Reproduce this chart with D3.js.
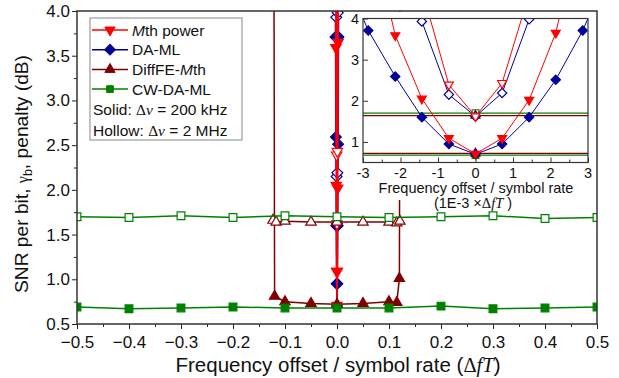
<!DOCTYPE html>
<html><head><meta charset="utf-8">
<script src="https://cdn.jsdelivr.net/npm/d3@7"></script>
<style>
body{margin:0;background:#fff}
svg{display:block;font-family:"Liberation Sans",Arial,sans-serif}
</style>
</head><body>
<svg id="c" width="619" height="378"></svg>
<script>
// ---------------- DATA ----------------
// CW-DA-ML (wide x range)
const cwX = [-0.5,-0.4,-0.3,-0.2,-0.1,0,0.1,0.2,0.3,0.4,0.5];
const cwSolid  = [0.69,0.67,0.68,0.69,0.68,0.68,0.68,0.70,0.67,0.68,0.69];
const cwHollow = [1.70,1.69,1.71,1.69,1.71,1.70,1.69,1.70,1.71,1.68,1.69];
// DiffFE-Mth
const dfSolidX = [-0.123,-0.12,-0.1,-0.05,0,0.05,0.1,0.115,0.12,0.123];
const dfSolid  = [10,0.81,0.75,0.73,0.72,0.73,0.75,0.74,1.01,10];
const dfHollowX = [-0.123,-0.117,-0.1,-0.05,0,0.05,0.1,0.115,0.121];
const dfHollow  = [1.66,1.64,1.65,1.64,1.64,1.64,1.64,1.63,1.65];
// Central series, x in units of 1E-3 x ΔfT
const mthSolidX = [-2.86,-2.14,-1.43,-0.71,0,0.71,1.43,2.14,2.86];
const mthSolid  = [6.4,3.59,2.05,1.09,0.71,1.09,2.02,3.65,6.5];
const mthHollowX = [-1.43,-0.71,0,0.71,1.43];
const mthHollow  = [4.7,2.39,1.62,2.43,4.6];
const daSolidX = [-3.57,-2.86,-2.14,-1.43,-0.71,0,0.71,1.43,2.14,2.86,3.57];
const daSolid  = [5.2,3.71,2.59,1.60,0.95,0.70,0.95,1.60,2.51,3.71,5.2];
const daHollowX = [-2.14,-1.43,-0.71,0,0.71,1.43,2.14];
const daHollow  = [6.0,3.93,2.15,1.62,2.19,3.98,6.0];
// ticks
const mainXTicks = [-0.5,-0.4,-0.3,-0.2,-0.1,0,0.1,0.2,0.3,0.4,0.5];
const mainYTicks = [0.5,1.0,1.5,2.0,2.5,3.0,3.5,4.0];
const insetXTicks = [-3,-2,-1,0,1,2,3];
const insetYTicks = [1,2,3,4];
const legendNames = ["Mth power","DA-ML","DiffFE-Mth","CW-DA-ML"];

const C = {red:"#ff0000", blue:"#000099", wine:"#800000", green:"#008000"};
const K = 1e-3;

const central = [
  {x:daSolidX.map(v=>v*K), y:daSolid, color:C.blue, sym:"diamond", fill:true},
  {x:daHollowX.map(v=>v*K), y:daHollow, color:C.blue, sym:"diamond", fill:false},
  {x:mthSolidX.map(v=>v*K), y:mthSolid, color:C.red, sym:"down", fill:true},
  {x:mthHollowX.map(v=>v*K), y:mthHollow, color:C.red, sym:"down", fill:false},
];
const wide = [
  {x:dfSolidX, y:dfSolid, color:C.wine, sym:"up", fill:true},
  {x:dfHollowX, y:dfHollow, color:C.wine, sym:"up", fill:false},
  {x:cwX, y:cwSolid, color:C.green, sym:"square", fill:true},
  {x:cwX, y:cwHollow, color:C.green, sym:"square", fill:false},
];

const svg = d3.select("#c");

function symPath(sym, scale){
  if(sym==="diamond") return {d:d3.symbol(d3.symbolSquare, 58*scale)(), rot:45};
  if(sym==="up") return {d:d3.symbol(d3.symbolTriangle, 46*scale)(), rot:0};
  if(sym==="down") return {d:d3.symbol(d3.symbolTriangle, 46*scale)(), rot:180};
  return {d:d3.symbol(d3.symbolSquare, 60*scale)(), rot:0};
}

// ---------------- MAIN ----------------
const M = {l:77, r:597, t:11, b:324};
const x = d3.scaleLinear().domain([-0.5,0.5]).range([M.l,M.r]);
const y = d3.scaleLinear().domain([0.5,4]).range([M.b,M.t]);

svg.append("clipPath").attr("id","mclip").append("rect")
  .attr("x",M.l).attr("y",M.t).attr("width",M.r-M.l).attr("height",M.b-M.t);

const gx = svg.append("g").attr("transform",`translate(0,${M.b})`)
  .call(d3.axisBottom(x).tickValues(mainXTicks).tickFormat(d3.format(".1f")).tickSize(5).tickSizeOuter(0));
const gxm = svg.append("g").attr("transform",`translate(0,${M.b})`)
  .call(d3.axisBottom(x).tickValues(mainXTicks.slice(0,-1).map(v=>v+0.05)).tickFormat("").tickSize(3).tickSizeOuter(0));
const gy = svg.append("g").attr("transform",`translate(${M.l},0)`)
  .call(d3.axisLeft(y).tickValues(mainYTicks).tickFormat(d3.format(".1f")).tickSize(5).tickSizeOuter(0));
const gym = svg.append("g").attr("transform",`translate(${M.l},0)`)
  .call(d3.axisLeft(y).tickValues(mainYTicks.slice(0,-1).map(v=>v+0.25)).tickFormat("").tickSize(3).tickSizeOuter(0));
[gx,gxm,gy,gym].forEach(g=>{g.select(".domain").remove();g.selectAll("line").attr("stroke","#222");});
gx.selectAll("text").attr("font-size",17).attr("fill","#111").attr("dy","0.95em").attr("font-family","Liberation Sans, Arial");
gy.selectAll("text").attr("font-size",17).attr("fill","#111").attr("font-family","Liberation Sans, Arial").attr("x",-7);

function drawSeries(g, list, xs, ys, clipId, scale, lw, xfac){
  list.forEach(s=>{
    const pts = s.x.map((v,i)=>[xs(v*xfac), ys(s.y[i])]);
    g.append("path").attr("d", d3.line()(pts)).attr("fill","none")
      .attr("stroke", s.color).attr("stroke-width", lw).attr("clip-path",`url(#${clipId})`);
    const sp = symPath(s.sym, scale);
    const mg = g.append("g").attr("clip-path",`url(#${clipId})`);
    pts.forEach(p=>{
      mg.append("path").attr("d", sp.d)
        .attr("transform",`translate(${p[0]},${p[1]}) rotate(${sp.rot})`)
        .attr("fill", s.fill? s.color : "#fff").attr("stroke", s.color).attr("stroke-width", 1.2);
    });
  });
}
const plot = svg.append("g");
drawSeries(plot, central.concat(wide), x, y, "mclip", 1, 1.5, 1);

svg.append("rect").attr("x",M.l).attr("y",M.t).attr("width",M.r-M.l).attr("height",M.b-M.t)
  .attr("fill","none").attr("stroke","#333").attr("stroke-width",1.5);

// axis titles
const xt = svg.append("text").attr("x",338).attr("y",372).attr("text-anchor","middle")
  .attr("font-size",20.5).attr("fill","#111");
xt.append("tspan").text("Frequency offset / symbol rate (");
xt.append("tspan").attr("font-family","Liberation Serif, Times New Roman, serif").text("Δ");
xt.append("tspan").attr("font-family","Liberation Serif, Times New Roman, serif").attr("font-style","italic").text("fT");
xt.append("tspan").text(")");

const yt = svg.append("text").attr("transform",`translate(28,174) rotate(-90)`)
  .attr("text-anchor","middle").attr("font-size",19.2).attr("fill","#111");
yt.append("tspan").text("SNR per bit, ");
yt.append("tspan").attr("font-family","Liberation Serif, serif").attr("font-size",16).text("γ");
yt.append("tspan").attr("font-size",12.5).attr("dy",4).text("b");
yt.append("tspan").attr("dy",-4).text(", penalty (dB)");

// ---------------- LEGEND ----------------
const lg = svg.append("g");
lg.append("rect").attr("x",90).attr("y",18).attr("width",152).attr("height",122)
  .attr("fill","#fff").attr("stroke","#888").attr("stroke-width",1);
const legItems = [
  {color:C.red, sym:"down"}, {color:C.blue, sym:"diamond"}, {color:C.wine, sym:"up"}, {color:C.green, sym:"square"}
];
legItems.forEach((it,i)=>{
  const yy = 30 + i*19.7;
  lg.append("line").attr("x1",92).attr("x2",128).attr("y1",yy).attr("y2",yy).attr("stroke",it.color).attr("stroke-width",1.5);
  const sp = symPath(it.sym, it.sym==="square"?0.75:1);
  lg.append("path").attr("d",sp.d).attr("transform",`translate(110,${yy}) rotate(${sp.rot})`).attr("fill",it.color).attr("stroke",it.color);
  const t = lg.append("text").attr("x",132).attr("y",yy+5.5).attr("font-size",15.5).attr("fill","#111");
  const nm = legendNames[i];
  if(nm.startsWith("M")){ t.append("tspan").attr("font-style","italic").text("M"); t.append("tspan").text(nm.slice(1)); }
  else if(nm.endsWith("Mth")){ t.append("tspan").text(nm.slice(0,-3)); t.append("tspan").attr("font-style","italic").text("M"); t.append("tspan").text("th"); }
  else t.text(nm);
});
[["Solid: ","200 kHz",109],["Hollow: ","2 MHz",130]].forEach(r=>{
  const t = lg.append("text").attr("x",93).attr("y",r[2]+5.5).attr("font-size",15.5).attr("fill","#111");
  t.append("tspan").text(r[0]);
  t.append("tspan").attr("font-family","Liberation Serif, serif").text("Δ");
  t.append("tspan").attr("font-family","Liberation Serif, serif").attr("font-style","italic").text("ν");
  t.append("tspan").text(" = "+r[1]);
});

// ---------------- INSET ----------------
const I = {l:363, r:588, t:18.5, b:162.5};
svg.append("rect").attr("x",346).attr("y",12).attr("width",250).attr("height",188).attr("fill","#fff");
const ix = d3.scaleLinear().domain([-3,3]).range([I.l,I.r]);
const iy = d3.scaleLinear().domain([0.5,4]).range([I.b,I.t]);
svg.append("clipPath").attr("id","iclip").append("rect")
  .attr("x",I.l).attr("y",I.t).attr("width",I.r-I.l).attr("height",I.b-I.t);
const inset = svg.append("g");
// in the inset the flat reference curves lie underneath
drawSeries(inset, wide.slice().reverse(), ix, iy, "iclip", 0.75, 1.2, 1000);
drawSeries(inset, central, ix, iy, "iclip", 0.75, 1, 1000);
svg.append("rect").attr("x",I.l).attr("y",I.t).attr("width",I.r-I.l).attr("height",I.b-I.t)
  .attr("fill","none").attr("stroke","#333").attr("stroke-width",1.2);
const igx = svg.append("g").attr("transform",`translate(0,${I.b})`)
  .call(d3.axisTop(ix).tickValues(insetXTicks).tickFormat("").tickSize(5).tickSizeOuter(0));
const igxm = svg.append("g").attr("transform",`translate(0,${I.b})`)
  .call(d3.axisTop(ix).tickValues(insetXTicks.slice(0,-1).map(v=>v+0.5)).tickFormat("").tickSize(3).tickSizeOuter(0));
const igy = svg.append("g").attr("transform",`translate(${I.l},0)`)
  .call(d3.axisRight(iy).tickValues(insetYTicks).tickFormat("").tickSize(5).tickSizeOuter(0));
[igx,igxm,igy].forEach(g=>{g.select(".domain").remove();g.selectAll("line").attr("stroke","#333");});
insetXTicks.forEach(v=>{
  svg.append("text").attr("x",ix(v)).attr("y",I.b+15.5).attr("text-anchor","middle")
    .attr("font-size",14.5).attr("fill","#111").text(v<0? "-"+Math.abs(v) : v);
});
insetYTicks.forEach(v=>{
  svg.append("text").attr("x",I.l-4).attr("y",iy(v)+5).attr("text-anchor","end")
    .attr("font-size",14.5).attr("fill","#111").text(v);
});
svg.append("text").attr("x",476).attr("y",192.5).attr("text-anchor","middle").attr("font-size",14.5).attr("fill","#111")
  .text("Frequency offset / symbol rate");
const it2 = svg.append("text").attr("x",473).attr("y",207.5).attr("text-anchor","middle").attr("font-size",14.5).attr("fill","#111");
it2.append("tspan").text("(1E-3 ×");
it2.append("tspan").attr("font-family","Liberation Serif, serif").text("Δ");
it2.append("tspan").attr("font-family","Liberation Serif, serif").attr("font-style","italic").text("fT");
it2.append("tspan").text(" )");
</script>
</body></html>
